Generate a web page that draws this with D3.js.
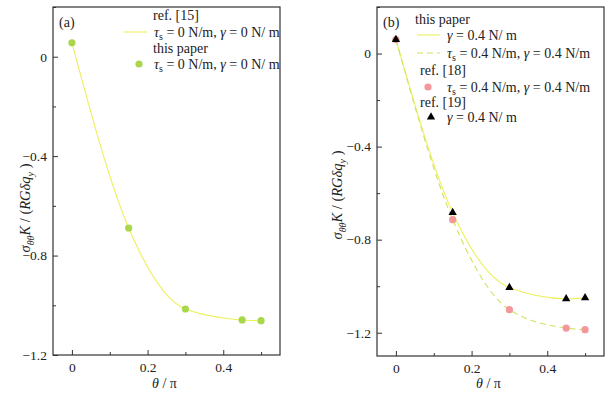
<!DOCTYPE html>
<html>
<head>
<meta charset="utf-8">
<script src="https://cdn.jsdelivr.net/npm/d3@7"></script>
<style>
  body { margin: 0; background: #fff; }
</style>
</head>
<body>
<svg id="chart" width="616" height="395"></svg>
<script>
const FONT = "Liberation Serif";
const svg = d3.select("#chart").attr("font-family", FONT);

// data
const thetas = [0, 0.15, 0.3, 0.45, 0.5];
const ref15 = [0.056, -0.689, -1.015, -1.059, -1.062];      // (a) curve
const paperA = [0.056, -0.689, -1.015, -1.059, -1.062];     // (a) dots
const paperGamma = [0.06, -0.684, -1.006, -1.054, -1.05];   // (b) solid
const paperTauGamma = [0.06, -0.714, -1.101, -1.18, -1.187]; // (b) dashed
const ref18 = [0.06, -0.714, -1.101, -1.18, -1.187];        // pink dots
const ref19 = [0.06, -0.684, -1.006, -1.054, -1.05];        // black triangles
const xTicks = [0, 0.2, 0.4];
const yTicksA = [0, -0.4, -0.8, -1.2];
const yTicksB = [0, -0.4, -0.8, -1.2];

const yellow = "#eef05a", dashCol = "#cfe35a", green = "#aad64c", pink = "#f4979a";

const fmt = d => d === 0 ? "0" : (d < 0 ? "\u2212" + Math.abs(d) : "" + d);
const pts = (ys) => thetas.map((t, i) => [t, ys[i]]);

function txt(sel) {
  return sel.append("text").attr("font-family", FONT).attr("fill", "#222");
}

function panel(o) {
  const x = d3.scaleLinear().domain([-0.05, 0.55]).range([o.left, o.right]);
  const y = d3.scaleLinear().domain(o.yDom).range([o.bottom, o.top]);
  const g = svg.append("g");

  // axes with inward ticks
  g.append("g").attr("transform", `translate(0,${o.bottom})`)
    .call(d3.axisBottom(x).tickValues(xTicks).tickSizeInner(-5).tickSizeOuter(0).tickFormat(fmt).tickPadding(7));
  g.append("g").attr("transform", `translate(0,${o.bottom})`)
    .call(d3.axisBottom(x).tickValues([0.1, 0.3, 0.5]).tickSizeInner(-3).tickSizeOuter(0).tickFormat(""));
  g.append("g").attr("transform", `translate(${o.left},0)`)
    .call(d3.axisLeft(y).tickValues(o.yTicks).tickSizeInner(-5).tickSizeOuter(0).tickFormat(fmt).tickPadding(6));
  g.append("g").attr("transform", `translate(${o.left},0)`)
    .call(d3.axisLeft(y).tickValues(o.yMinor).tickSizeInner(-3).tickSizeOuter(0).tickFormat(""));
  g.selectAll(".domain").remove();
  g.selectAll("g[font-family]").attr("font-family", FONT);
  g.selectAll(".tick line").attr("stroke", "#333");
  g.selectAll(".tick text").attr("font-family", FONT).attr("font-size", 13.5).attr("fill", "#222");

  g.append("rect").attr("x", o.left).attr("y", o.top)
    .attr("width", o.right - o.left).attr("height", o.bottom - o.top)
    .attr("fill", "none").attr("stroke", "#333").attr("stroke-width", 1.2);

  const line = d3.line().x(d => x(d[0])).y(d => y(d[1])).curve(d3.curveMonotoneX);
  o.lines.forEach(l => {
    g.append("path").attr("d", line(pts(l.ys))).attr("fill", "none")
      .attr("stroke", l.color).attr("stroke-width", 1.1)
      .attr("stroke-dasharray", l.dash || null);
  });
  o.dots.forEach(s => {
    if (s.shape === "tri") {
      g.selectAll(null).data(pts(s.ys)).join("path")
        .attr("d", d3.symbol(d3.symbolTriangle, 30))
        .attr("transform", d => `translate(${x(d[0])},${y(d[1])})`)
        .attr("fill", s.color);
    } else {
      g.selectAll(null).data(pts(s.ys)).join("circle")
        .attr("cx", d => x(d[0])).attr("cy", d => y(d[1])).attr("r", 3.6)
        .attr("fill", s.color);
    }
  });

  txt(g).attr("x", o.left + 6).attr("y", o.top + 20).attr("font-size", 14).text(o.tag);

  // axis titles
  const xt = txt(g).attr("x", (o.left + o.right) / 2 - 2).attr("y", 388)
    .attr("text-anchor", "middle").attr("font-size", 14);
  xt.append("tspan").attr("font-style", "italic").text("\u03b8");
  xt.append("tspan").text(" / \u03c0");

  const yt = txt(g).attr("transform", `translate(${o.ytX},${o.ytY}) rotate(-90)`)
    .attr("text-anchor", "middle").attr("font-size", 14.5);
  yt.append("tspan").attr("font-style", "italic").text("\u03c3");
  yt.append("tspan").attr("font-style", "italic").attr("font-size", 10).attr("dy", 4).text("\u03b8\u03b8");
  yt.append("tspan").attr("font-style", "italic").attr("dy", -4).text("K");
  yt.append("tspan").text(" / (");
  yt.append("tspan").attr("font-style", "italic").text("RG\u03b4q");
  yt.append("tspan").attr("font-style", "italic").attr("font-size", 10).attr("dy", 4).text("y");
  yt.append("tspan").attr("dy", -4).text(" )");

  // legend
  o.legend.forEach(it => {
    if (it.head) {
      txt(g).attr("x", it.x).attr("y", it.y + 5).attr("font-size", 14).text(it.head);
      return;
    }
    if (it.kind === "line") {
      g.append("line").attr("x1", it.sx).attr("x2", it.sx + 23).attr("y1", it.y).attr("y2", it.y)
        .attr("stroke", it.color).attr("stroke-width", 1.1).attr("stroke-dasharray", it.dash || null);
    } else if (it.kind === "dot") {
      g.append("circle").attr("cx", it.sx).attr("cy", it.y).attr("r", 3.6).attr("fill", it.color);
    } else {
      g.append("path").attr("d", d3.symbol(d3.symbolTriangle, 30))
        .attr("transform", `translate(${it.sx},${it.y})`).attr("fill", it.color);
    }
    const t = txt(g).attr("x", it.tx).attr("y", it.y + 5).attr("font-size", 14);
    it.parts.forEach(p => {
      const s = t.append("tspan").text(p.t);
      if (p.i) s.attr("font-style", "italic");
      if (p.sub) s.attr("font-size", 10).attr("dy", 3);
      if (p.up) s.attr("dy", -3);
    });
  });
}

const tau = v => [{ t: "\u03c4", i: 1 }, { t: "s", sub: 1 }, { t: " = " + v + " N/m, ", up: 1 }];
const gam = v => [{ t: "\u03b3", i: 1 }, { t: " = " + v }];

panel({
  left: 53, right: 280, top: 7, bottom: 355, yDom: [-1.2, 0.2],
  yTicks: yTicksA, yMinor: [0.2, -0.2, -0.6, -1.0], tag: "(a)",
  ytX: 30, ytY: 208,
  lines: [{ ys: ref15, color: yellow }],
  dots: [{ ys: paperA, color: green }],
  legend: [
    { head: "ref. [15]", x: 153, y: 15 },
    { kind: "line", sx: 124, tx: 154, y: 32, color: yellow, parts: [...tau("0"), ...gam("0 N/ m")] },
    { head: "this paper", x: 153, y: 48 },
    { kind: "dot", sx: 139, tx: 154, y: 64, color: green, parts: [...tau("0"), ...gam("0 N/ m")] }
  ]
});

panel({
  left: 377, right: 604, top: 7, bottom: 356, yDom: [-1.3, 0.2],
  yTicks: yTicksB, yMinor: [0.2, -0.2, -0.6, -1.0], tag: "(b)",
  ytX: 342, ytY: 195,
  lines: [{ ys: paperGamma, color: yellow }, { ys: paperTauGamma, color: dashCol, dash: "6,4" }],
  dots: [{ ys: ref18, color: pink }, { ys: ref19, color: "#000", shape: "tri" }],
  legend: [
    { head: "this paper", x: 415, y: 19 },
    { kind: "line", sx: 417, tx: 447, y: 35, color: yellow, parts: gam("0.4 N/ m") },
    { kind: "line", sx: 417, tx: 447, y: 53, color: dashCol, dash: "6,4", parts: [...tau("0.4"), ...gam("0.4 N/m")] },
    { head: "ref. [18]", x: 420, y: 70 },
    { kind: "dot", sx: 428, tx: 447, y: 87, color: pink, parts: [...tau("0.4"), ...gam("0.4 N/m")] },
    { head: "ref. [19]", x: 420, y: 102 },
    { kind: "tri", sx: 431, tx: 447, y: 117, color: "#000", parts: gam("0.4 N/ m") }
  ]
});
</script>
</body>
</html>
